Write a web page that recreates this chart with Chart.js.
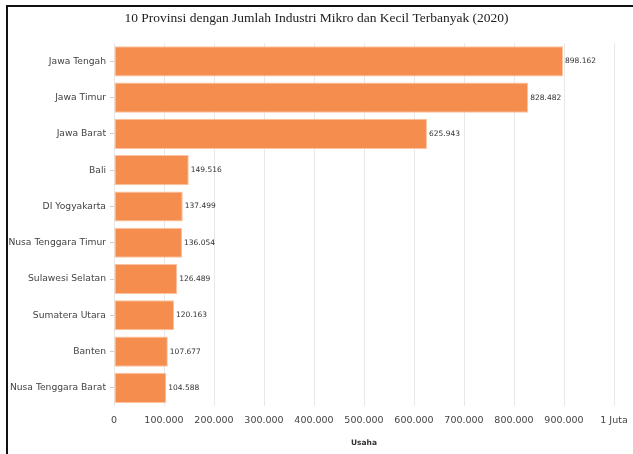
<!DOCTYPE html>
<html>
<head>
<meta charset="utf-8">
<script src="https://cdn.jsdelivr.net/npm/chart.js@4"></script>
<style>
  html, body { margin: 0; padding: 0; background: #fff; }
  #wrap { position: relative; width: 633px; height: 454px; }
  #frame { position: absolute; left: 6px; top: 5px; right: 0; bottom: 0; border-left: 2px solid #111; border-top: 2px solid #111; pointer-events: none; }
  canvas { display: block; }
</style>
</head>
<body>
<div id="wrap">
  <canvas id="chart" width="633" height="454"></canvas>
  <div id="frame"></div>
</div>
<script>
// data
const provinces = ["Jawa Tengah", "Jawa Timur", "Jawa Barat", "Bali", "DI Yogyakarta",
  "Nusa Tenggara Timur", "Sulawesi Selatan", "Sumatera Utara", "Banten", "Nusa Tenggara Barat"];
const usaha = [898162, 828482, 625943, 149516, 137499, 136054, 126489, 120163, 107677, 104588];
const xTicks = [0, 100000, 200000, 300000, 400000, 500000, 600000, 700000, 800000, 900000, 1000000];

const fmt = v => v >= 1000000 ? (v / 1000000) + " Juta" : v.toLocaleString("de-DE");

// value labels at bar ends
const valueLabels = {
    id: "valueLabels",
    afterDatasetsDraw(chart) {
        const ctx = chart.ctx;
        const meta = chart.getDatasetMeta(0);
        ctx.save();
        ctx.font = "7.5px 'DejaVu Sans'";
        ctx.fillStyle = "#333";
        ctx.textBaseline = "middle";
        ctx.textAlign = "left";
        meta.data.forEach((bar, i) => {
            ctx.fillText(fmt(usaha[i]), bar.x + 2, bar.y);
        });
        ctx.restore();
    }
};

new Chart(document.getElementById("chart"), {
    type: "bar",
    data: {
        labels: provinces,
        datasets: [{
            label: "Usaha",
            data: usaha,
            backgroundColor: "#F58D4E",
            borderColor: "#FBC3A1",
            borderWidth: 1,
            borderSkipped: false,
            categoryPercentage: 1,
            barPercentage: 0.83
        }]
    },
    options: {
        indexAxis: "y",
        responsive: false,
        animation: false,
        layout: { padding: 0 },
        plugins: {
            legend: { display: false },
            tooltip: { enabled: false },
            title: {
                display: true,
                text: "10 Provinsi dengan Jumlah Industri Mikro dan Kecil Terbanyak (2020)",
                font: { family: "'Liberation Serif'", size: 13.5, weight: "normal" },
                color: "#222",
                padding: { top: 10, bottom: 17 }
            }
        },
        scales: {
            x: {
                min: 0,
                max: 1000000,
                afterBuildTicks: s => { s.ticks = xTicks.map(v => ({ value: v })); },
                afterFit: s => { s.height = 48; s.paddingLeft = 0; s.paddingRight = 19; },
                ticks: {
                    callback: v => fmt(v),
                    font: { family: "'DejaVu Sans'", size: 9.5 },
                    color: "#444",
                    padding: 9,
                    maxRotation: 0,
                    autoSkip: false
                },
                grid: { color: "#e8e8e8", drawTicks: false },
                border: { display: false },
                title: {
                    display: true,
                    text: "Usaha",
                    font: { family: "'DejaVu Sans'", size: 7.5, weight: "bold" },
                    color: "#333",
                    padding: { top: 0, bottom: 6 }
                }
            },
            y: {
                afterFit: s => { s.width = 114; },
                ticks: {
                    font: { family: "'DejaVu Sans'", size: 9.2 },
                    color: "#444",
                    padding: 4
                },
                grid: { offset: false, drawOnChartArea: false, drawTicks: true, tickLength: 4, color: "#ccc" },
                border: { display: false }
            }
        }
    },
    plugins: [valueLabels]
});
</script>
</body>
</html>
